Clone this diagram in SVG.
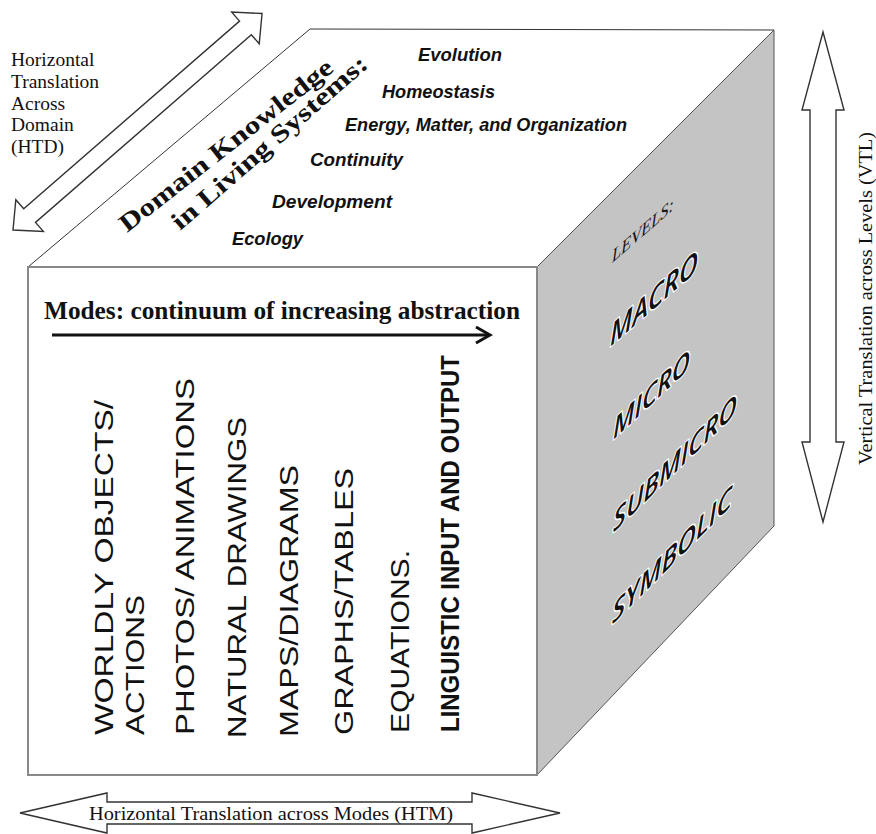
<svg xmlns="http://www.w3.org/2000/svg" width="876" height="834" viewBox="0 0 876 834">
<style>
.bg{fill:#fff}
.face-top{fill:#fff;stroke:#333;stroke-width:1}
.face-right{fill:#c4c4c4;stroke:#555;stroke-width:1}
.face-front{fill:#fff;stroke:#888;stroke-width:2}
.arrow{fill:#fff;stroke:#333;stroke-width:1.4;stroke-linejoin:miter}
.serif{font-family:"Liberation Serif","Times New Roman",serif;fill:#111}
.htd{font-size:19.5px}
.topic{font-family:"Liberation Sans",Arial,sans-serif;font-weight:bold;font-style:italic;font-size:18px;fill:#111}
.domain{font-family:"Liberation Serif","Times New Roman",serif;font-weight:bold;font-size:25px;fill:#111}
.level{font-family:"Open Sans","DejaVu Sans",sans-serif;font-style:italic;font-weight:600;fill:#111;stroke:#fff;stroke-width:2.5;paint-order:stroke;stroke-linejoin:round}
.levelhead{font-family:"Liberation Serif","Times New Roman",serif;font-style:italic;fill:#111}
.mode{font-family:"Liberation Sans",Arial,sans-serif;font-size:26px;fill:#111}
.modeb{font-weight:bold}
</style>
<rect class="bg" x="0" y="0" width="876" height="834"/>

<g id="cube">
  <polygon id="top-face" class="face-top" points="28,267 310,29 774,30 537,267"/>
  <polygon id="right-face" class="face-right" points="537,267 774,30 774,526 537,775"/>
  <rect id="front-face" class="face-front" x="28" y="267" width="509" height="508"/>
</g>

<g id="connectors">
  <polygon id="htd-arrow" class="arrow" transform="translate(13,230) rotate(-41)" points="0,0 22,-21 22,-9 308,-9 308,-21 330,0 308,21 308,9 22,9 22,21"/>
  <polygon id="vtl-arrow" class="arrow" points="823,32 844,110 836,110 836,442 844,442 823,522 802,442 810,442 810,110 802,110"/>
  <polygon id="htm-arrow" class="arrow" points="20,813 107,793 107,802 472,802 472,793 560,813 472,833 472,824 107,824 107,833"/>
  <g id="modes-arrow" fill="none" stroke="#111" stroke-width="3">
    <line x1="52" y1="335" x2="488" y2="335"/>
    <polyline points="476,327 490,335 476,343" stroke-linejoin="miter"/>
  </g>
</g>

<g id="htd-label" class="serif htd">
  <text x="11" y="66">Horizontal</text>
  <text x="11" y="88">Translation</text>
  <text x="11" y="110">Across</text>
  <text x="11" y="131">Domain</text>
  <text x="11" y="153">(HTD)</text>
</g>

<g id="domain-title">
  <text class="domain" transform="translate(127,233) rotate(-38)" textLength="264" lengthAdjust="spacingAndGlyphs">Domain Knowledge</text>
  <text class="domain" transform="translate(180,231) rotate(-41)" textLength="251" lengthAdjust="spacingAndGlyphs">in Living Systems:</text>
</g>

<g id="domain-topics">
  <text class="topic" x="418" y="61" textLength="84" lengthAdjust="spacingAndGlyphs">Evolution</text>
  <text class="topic" x="382" y="98" textLength="113" lengthAdjust="spacingAndGlyphs">Homeostasis</text>
  <text class="topic" x="345" y="131" textLength="282" lengthAdjust="spacingAndGlyphs">Energy, Matter, and Organization</text>
  <text class="topic" x="310" y="166" textLength="93" lengthAdjust="spacingAndGlyphs">Continuity</text>
  <text class="topic" x="272" y="208" textLength="120" lengthAdjust="spacingAndGlyphs">Development</text>
  <text class="topic" x="232" y="245" textLength="71" lengthAdjust="spacingAndGlyphs">Ecology</text>
</g>

<g id="levels">
  <text class="levelhead" font-size="18" transform="matrix(1,-0.87,0,1,612,263)" textLength="62" lengthAdjust="spacingAndGlyphs">LEVELS:</text>
  <text class="level" font-size="30" transform="matrix(1,-0.87,0,1,610,347)" textLength="88" lengthAdjust="spacingAndGlyphs">MACRO</text>
  <text class="level" font-size="28" transform="matrix(1,-0.93,0,1,613,440)" textLength="77" lengthAdjust="spacingAndGlyphs">MICRO</text>
  <text class="level" font-size="28" transform="matrix(1,-0.97,0,1,613,533)" textLength="124" lengthAdjust="spacingAndGlyphs">SUBMICRO</text>
  <text class="level" font-size="28" transform="matrix(1,-1,0,1,612,625)" textLength="120" lengthAdjust="spacingAndGlyphs">SYMBOLIC</text>
</g>

<g id="modes">
  <text class="serif" x="44" y="319" font-size="25" font-weight="bold" textLength="476" lengthAdjust="spacingAndGlyphs">Modes: continuum of increasing abstraction</text>
  <text class="mode" transform="translate(113,735) rotate(-90)" textLength="335" lengthAdjust="spacingAndGlyphs">WORLDLY  OBJECTS/</text>
  <text class="mode" transform="translate(144,735) rotate(-90)" textLength="140" lengthAdjust="spacingAndGlyphs">ACTIONS</text>
  <text class="mode" transform="translate(194,735) rotate(-90)" textLength="357" lengthAdjust="spacingAndGlyphs">PHOTOS/ ANIMATIONS</text>
  <text class="mode" transform="translate(246,738) rotate(-90)" textLength="321" lengthAdjust="spacingAndGlyphs">NATURAL DRAWINGS</text>
  <text class="mode" transform="translate(298,737) rotate(-90)" textLength="272" lengthAdjust="spacingAndGlyphs">MAPS/DIAGRAMS</text>
  <text class="mode" transform="translate(353,735) rotate(-90)" textLength="267" lengthAdjust="spacingAndGlyphs">GRAPHS/TABLES</text>
  <text class="mode" transform="translate(409,733) rotate(-90)" textLength="183" lengthAdjust="spacingAndGlyphs">EQUATIONS.</text>
  <text class="mode modeb" transform="translate(459,732) rotate(-90)" textLength="377" lengthAdjust="spacingAndGlyphs">LINGUISTIC INPUT AND OUTPUT</text>
</g>

<g id="htm-label">
  <text class="serif" x="89" y="820" font-size="19" textLength="364" lengthAdjust="spacingAndGlyphs">Horizontal Translation across Modes (HTM)</text>
</g>

<g id="vtl-label">
  <text class="serif" font-size="18" transform="translate(872,465) rotate(-90)" textLength="333" lengthAdjust="spacingAndGlyphs">Vertical  Translation across Levels (VTL)</text>
</g>
</svg>
